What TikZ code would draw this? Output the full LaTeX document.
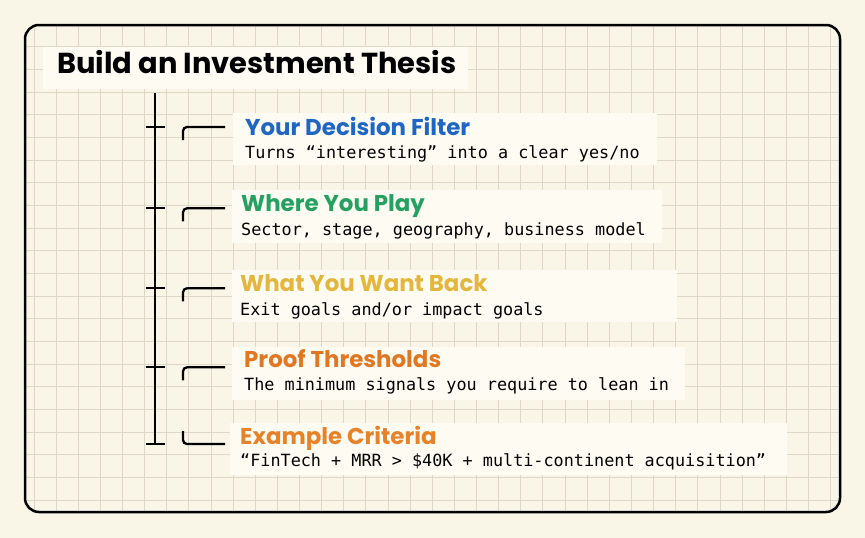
\documentclass[tikz,border=0pt]{standalone}
\usepackage{fontspec}
\setmainfont{Poppins}
\setmonofont{DejaVu Sans Mono}
\usetikzlibrary{positioning}
\definecolor{paper}{HTML}{F9F6E7}
\definecolor{patch}{HTML}{FDFBF2}
\definecolor{gridline}{HTML}{DCD7C6}
\definecolor{filterblue}{HTML}{1F66C2}
\definecolor{playgreen}{HTML}{23A062}
\definecolor{backyellow}{HTML}{E3B63D}
\definecolor{prooforange}{HTML}{DF7723}
\definecolor{critorange}{HTML}{E5822A}

\tikzset{
  titletext/.style={anchor=base west, inner sep=0pt, font=\bfseries\fontsize{28.9}{29}\selectfont},
  heading/.style={anchor=base west, inner sep=0pt, font=\bfseries\fontsize{22.9}{23}\selectfont},
  desc/.style={anchor=base west, inner sep=0pt, font=\ttfamily\fontsize{16.8}{17}\selectfont},
  spine/.style={line width=2.3pt, black},
  bracket/.style={line width=2.3pt, black, rounded corners=4pt}
}

\begin{document}
\begin{tikzpicture}[x=1pt,y=-1pt]
  \useasboundingbox[fill=paper] (0,0) rectangle (865,538);
  % grid paper inside the frame
  \begin{scope}
    \clip[rounded corners=14pt] (25,25) rectangle (840,512);
    \foreach \k in {0,...,36}
      \draw[gridline, line width=0.8pt] (33.9+22.13*\k,25) -- (33.9+22.13*\k,512);
    \foreach \k in {0,...,20}
      \draw[gridline, line width=0.8pt] (25,46.7+22.67*\k) -- (840,46.7+22.67*\k);
  \end{scope}
  % light patches behind the texts
  \fill[patch] (43,47) rectangle (468,89);
  \fill[patch] (233,113) rectangle (657,165);
  \fill[patch] (232,190) rectangle (662,243);
  \fill[patch] (232,270) rectangle (677,322);
  \fill[patch] (232,347) rectangle (685,400);
  \fill[patch] (230,423) rectangle (787,475);
  \draw[line width=2.5pt, rounded corners=14pt] (25,25) rectangle (840,512);

  \node[titletext] (title) at (57,73) {Build an Investment Thesis};

  \node[heading, filterblue] (filter) at (245,135) {Your Decision Filter};
  \node[desc] (filterdesc) at (245,158.3) {Turns “interesting” into a clear yes/no};
  \node[heading, playgreen] (play) at (241,211.7) {Where You Play};
  \node[desc] (playdesc) at (241,235) {Sector, stage, geography, business model};
  \node[heading, backyellow] (back) at (240,291.7) {What You Want Back};
  \node[desc] (backdesc) at (240,315) {Exit goals and/or impact goals};
  \node[heading, prooforange] (proof) at (244,367.3) {Proof Thresholds};
  \node[desc] (proofdesc) at (244,390.7) {The minimum signals you require to lean in};
  \node[heading, critorange] (crit) at (240,444) {Example Criteria};
  \node[desc] (critdesc) at (240,466.7) {“FinTech + MRR > \$40K + multi-continent acquisition”};

  % timeline with ticks and brackets
  \coordinate (top) at (155,93);
  \foreach \y [count=\i] in {127,208.3,288.3,367.3,444}
    \coordinate (t\i) at (155,\y);
  \draw[spine] (top) -- (t5);
  \foreach \i in {1,...,5}
    \draw[spine] ([xshift=-9.5pt]t\i) -- ([xshift=9.5pt]t\i);
  \foreach \i in {1,...,4}
    \draw[bracket] ([xshift=28pt,yshift=-13pt]t\i) |- ([xshift=70pt]t\i);
  \draw[bracket] ([xshift=28pt,yshift=13pt]t5) |- ([xshift=70pt]t5);
\end{tikzpicture}
\end{document}
